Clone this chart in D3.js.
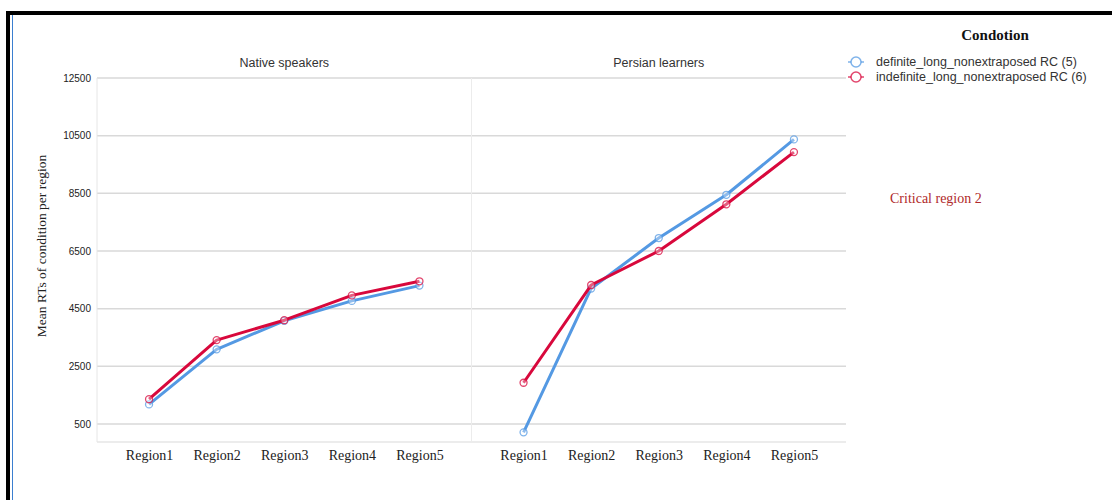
<!DOCTYPE html>
<html>
<head>
<meta charset="utf-8">
<script src="https://cdn.jsdelivr.net/npm/d3@7"></script>
<style>
  html, body { margin: 0; padding: 0; background: #fff; }
  svg { display: block; }
</style>
</head>
<body>
<svg id="chart" width="1112" height="500"></svg>
<script>
// Categories and series
const regions = ["Region1", "Region2", "Region3", "Region4", "Region5"];
const groups = ["Native speakers", "Persian learners"];
const conditions = ["definite_long_nonextraposed RC (5)", "indefinite_long_nonextraposed RC (6)"];
const yTicks = [500, 2500, 4500, 6500, 8500, 10500, 12500];

// Mean RTs, one array per group and condition
const nativeDefinite   = [1180, 3090, 4080, 4770, 5300];
const nativeIndefinite = [1360, 3410, 4100, 4960, 5450];
const persianDefinite   = [210, 5200, 6950, 8450, 10370];
const persianIndefinite = [1930, 5320, 6500, 8120, 9930];

const seriesByGroup = [
  [nativeDefinite, nativeIndefinite],
  [persianDefinite, persianIndefinite]
];
const colors = ["#5499e3", "#d8083c"];

const svg = d3.select("#chart");

// Frame
svg.append("rect").attr("x", 8).attr("y", 13).attr("width", 1200).attr("height", 600)
  .attr("fill", "none").attr("stroke", "#000").attr("stroke-width", 4);
svg.append("line").attr("x1", 12.5).attr("x2", 12.5).attr("y1", 15).attr("y2", 500)
  .attr("stroke", "#3b7fd0").attr("stroke-width", 1);

const plotLeft = 97, plotRight = 846, plotTop = 78, plotBottom = 442;
const panelW = (plotRight - plotLeft) / 2;

const y = d3.scaleLinear().domain([500, 12500]).range([424, 78]);

// Gridlines
svg.append("g").selectAll("line").data(yTicks).join("line")
  .attr("x1", plotLeft).attr("x2", plotRight)
  .attr("y1", d => y(d)).attr("y2", d => y(d))
  .attr("stroke", "#d9d9d9").attr("stroke-width", 1.5);

// Frame lines of the panels
svg.append("line").attr("x1", plotLeft).attr("x2", plotRight).attr("y1", plotBottom).attr("y2", plotBottom)
  .attr("stroke", "#e6e6e6").attr("stroke-width", 1.5);
svg.append("line").attr("x1", plotLeft).attr("x2", plotLeft).attr("y1", plotTop).attr("y2", plotBottom)
  .attr("stroke", "#e6e6e6").attr("stroke-width", 1);
svg.append("line").attr("x1", plotLeft + panelW).attr("x2", plotLeft + panelW).attr("y1", plotTop).attr("y2", plotBottom)
  .attr("stroke", "#ececec").attr("stroke-width", 1);

// Y axis
const yAxis = d3.axisLeft(y).tickValues(yTicks).tickFormat(d3.format("d")).tickSize(0).tickPadding(6);
const gy = svg.append("g").attr("transform", `translate(${plotLeft},0)`).call(yAxis);
gy.select(".domain").remove();
gy.selectAll("text").attr("font-family", "Liberation Sans, Arial, sans-serif")
  .attr("font-size", 10).attr("fill", "#222");

svg.append("text")
  .attr("transform", "translate(46,246) rotate(-90)")
  .attr("text-anchor", "middle")
  .attr("font-family", "Liberation Serif, Times New Roman, serif")
  .attr("font-size", 13.5).attr("fill", "#222")
  .text("Mean RTs of condition per region");

const line = d3.line();

groups.forEach((g, gi) => {
  const x0 = plotLeft + gi * panelW;
  const x = d3.scalePoint().domain(regions).range([x0, x0 + panelW]).padding(0.77);

  svg.append("text")
    .attr("x", x0 + panelW / 2).attr("y", 67)
    .attr("text-anchor", "middle")
    .attr("font-family", "Liberation Sans, Arial, sans-serif")
    .attr("font-size", 12.5).attr("fill", "#333")
    .text(g);

  const xAxis = d3.axisBottom(x).tickSize(0).tickPadding(8);
  const gx = svg.append("g").attr("transform", `translate(0,${plotBottom})`).call(xAxis);
  gx.select(".domain").remove();
  gx.selectAll("text").attr("font-family", "Liberation Serif, Times New Roman, serif")
    .attr("font-size", 14).attr("fill", "#222");

  seriesByGroup[gi].forEach((vals, si) => {
    const pts = regions.map((r, i) => [x(r), y(vals[i])]);
    svg.append("path").attr("d", line(pts))
      .attr("fill", "none").attr("stroke", colors[si]).attr("stroke-width", 3)
      .attr("stroke-linejoin", "round");
    svg.append("g").selectAll("circle").data(pts).join("circle")
      .attr("cx", d => d[0]).attr("cy", d => d[1]).attr("r", 3.5)
      .attr("fill", "#fff").attr("fill-opacity", 0.35)
      .attr("stroke", colors[si]).attr("stroke-opacity", 0.75).attr("stroke-width", 1.3);
  });
});

// Legend
svg.append("text").attr("x", 995).attr("y", 40).attr("text-anchor", "middle")
  .attr("font-family", "Liberation Serif, Times New Roman, serif")
  .attr("font-weight", "bold").attr("font-size", 15).attr("fill", "#111")
  .text("Condotion");

conditions.forEach((c, i) => {
  const ly = 62 + i * 15;
  svg.append("line").attr("x1", 848).attr("x2", 864).attr("y1", ly).attr("y2", ly)
    .attr("stroke", colors[i]).attr("stroke-opacity", 0.75).attr("stroke-width", 1.5);
  svg.append("circle").attr("cx", 856).attr("cy", ly).attr("r", 5)
    .attr("fill", "#fff").attr("stroke", colors[i]).attr("stroke-opacity", 0.75).attr("stroke-width", 1.5);
  svg.append("text").attr("x", 876).attr("y", ly + 4)
    .attr("font-family", "Liberation Sans, Arial, sans-serif")
    .attr("font-size", 12.5).attr("fill", "#333")
    .text(c);
});

svg.append("text").attr("x", 890).attr("y", 203)
  .attr("font-family", "Liberation Serif, Times New Roman, serif")
  .attr("font-size", 14).attr("fill", "#b02a2a")
  .text("Critical region 2");
</script>
</body>
</html>
